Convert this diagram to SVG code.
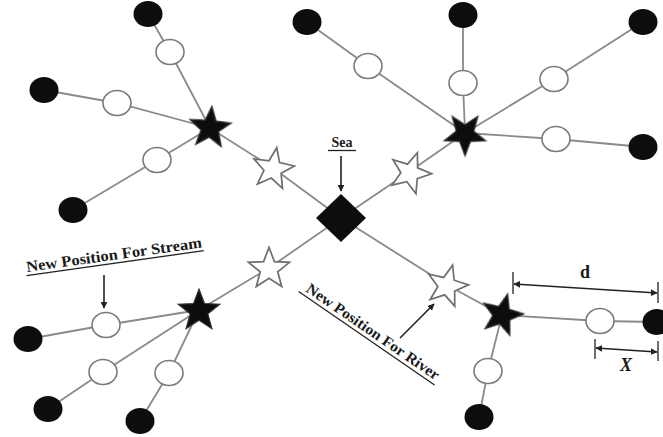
<svg xmlns="http://www.w3.org/2000/svg" width="663" height="437" viewBox="0 0 663 437">
<style>
.ln{stroke:#8a8a8a;stroke-width:1.8;fill:none}
.hol{fill:#fff;stroke:#7a7a7a;stroke-width:1.6}
.blk{fill:#111}
.wst{fill:#fff;stroke:#707070;stroke-width:1.6;stroke-linejoin:miter}
.bst{fill:#111;stroke:#333;stroke-width:1}
.lbl{font-family:"Liberation Serif",serif;font-weight:bold;fill:#1a1a1a}
.ar{stroke:#222;stroke-width:1.6;fill:none}
.ul{stroke:#222;stroke-width:1.3}
</style>
<defs>
<path id="star" d="M0,-20 L5,-6.88 L19.02,-6.18 L8.08,2.63 L11.76,16.18 L0,8.5 L-11.76,16.18 L-8.08,2.63 L-19.02,-6.18 L-5,-6.88 Z"/>
<marker id="ah" viewBox="0 0 10 10" refX="9" refY="5" markerWidth="7" markerHeight="7" orient="auto-start-reverse" markerUnits="userSpaceOnUse">
<path d="M0,0 L10,5 L0,10 Z" fill="#222"/>
</marker>
<filter id="soft" x="-20%" y="-20%" width="140%" height="140%"><feGaussianBlur stdDeviation="0.7"/></filter>
</defs>
<rect width="663" height="437" fill="#fff"/>
<g id="connectors">
<polyline class="ln" points="148,14 170,52 210,128"/>
<polyline class="ln" points="44,90 117,103 210,128"/>
<polyline class="ln" points="73,210 157,160 210,128"/>
<polyline class="ln" points="210,128 273,168 341,218"/>
<polyline class="ln" points="341,218 409,172 465,133"/>
<polyline class="ln" points="307,22 368,66 465,133"/>
<polyline class="ln" points="463,15 463,83 465,133"/>
<polyline class="ln" points="643,22 554,79 465,133"/>
<polyline class="ln" points="643,147 556,139 465,133"/>
<polyline class="ln" points="341,218 269,268 199,310"/>
<polyline class="ln" points="28,339 106,325 199,310"/>
<polyline class="ln" points="48,409 103,372 199,310"/>
<polyline class="ln" points="140,421 169,373 199,310"/>
<polyline class="ln" points="341,218 447,285 502,315"/>
<polyline class="ln" points="502,315 600,321 657,322"/>
<polyline class="ln" points="502,315 488,371 479,417"/>
</g>
<g id="sea">
<polygon class="blk" filter="url(#soft)" points="341,194 366,218 341,242 316,218"/>
</g>
<g id="sea-label">
<text class="lbl" x="342" y="147" font-size="14" text-anchor="middle">Sea</text>
<line class="ul" x1="328" y1="150.5" x2="356" y2="150.5"/>
<line class="ar" x1="341" y1="156" x2="341" y2="191" marker-end="url(#ah)"/>
</g>
<g id="tl-cluster">
<use href="#star" class="bst" filter="url(#soft)" transform="translate(210,128) rotate(5) scale(1.1)"/>
<ellipse class="hol" cx="170" cy="52" rx="14" ry="12.5"/>
<ellipse class="blk" filter="url(#soft)" cx="148" cy="14" rx="14.5" ry="13"/>
<ellipse class="hol" cx="117" cy="103" rx="14" ry="12.5"/>
<ellipse class="blk" filter="url(#soft)" cx="44" cy="90" rx="14.5" ry="13"/>
<ellipse class="hol" cx="157" cy="160" rx="14" ry="12.5"/>
<ellipse class="blk" filter="url(#soft)" cx="73" cy="210" rx="14.5" ry="13"/>
<use href="#star" class="wst" transform="translate(273,169) rotate(10) scale(1.08)"/>
</g>
<g id="tr-cluster">
<use href="#star" class="bst" filter="url(#soft)" transform="translate(465,134) rotate(36) scale(1.1)"/>
<ellipse class="hol" cx="368" cy="66" rx="14" ry="12.5"/>
<ellipse class="blk" filter="url(#soft)" cx="307" cy="22" rx="14.5" ry="13"/>
<ellipse class="hol" cx="463" cy="83" rx="14" ry="12.5"/>
<ellipse class="blk" filter="url(#soft)" cx="463" cy="15" rx="14.5" ry="13"/>
<ellipse class="hol" cx="554" cy="79" rx="14" ry="12.5"/>
<ellipse class="blk" filter="url(#soft)" cx="643" cy="22" rx="14.5" ry="13"/>
<ellipse class="hol" cx="556" cy="139" rx="14" ry="12.5"/>
<ellipse class="blk" filter="url(#soft)" cx="643" cy="147" rx="14.5" ry="13"/>
<use href="#star" class="wst" transform="translate(410,173) rotate(20) scale(1.08)"/>
</g>
<g id="bl-cluster">
<use href="#star" class="bst" filter="url(#soft)" transform="translate(199,311) rotate(0) scale(1.1)"/>
<ellipse class="hol" cx="106" cy="325" rx="14" ry="12.5"/>
<ellipse class="blk" filter="url(#soft)" cx="28" cy="339" rx="14.5" ry="13"/>
<ellipse class="hol" cx="103" cy="372" rx="14" ry="12.5"/>
<ellipse class="blk" filter="url(#soft)" cx="48" cy="409" rx="14.5" ry="13"/>
<ellipse class="hol" cx="169" cy="373" rx="14" ry="12.5"/>
<ellipse class="blk" filter="url(#soft)" cx="140" cy="421" rx="14.5" ry="13"/>
<use href="#star" class="wst" transform="translate(269,269) rotate(0) scale(1.08)"/>
</g>
<g id="br-cluster">
<use href="#star" class="bst" filter="url(#soft)" transform="translate(502,315) rotate(15) scale(1.1)"/>
<ellipse class="hol" cx="600" cy="321" rx="14" ry="12.5"/>
<ellipse class="blk" filter="url(#soft)" cx="657" cy="322" rx="14.5" ry="13"/>
<ellipse class="hol" cx="488" cy="371" rx="14" ry="12.5"/>
<ellipse class="blk" filter="url(#soft)" cx="479" cy="417" rx="14.5" ry="13"/>
<use href="#star" class="wst" transform="translate(447,286) rotate(15) scale(1.08)"/>
</g>
<g id="stream-label">
<g transform="translate(27,272) rotate(-8)">
<text class="lbl" x="0" y="0" font-size="15.5" textLength="177" lengthAdjust="spacingAndGlyphs">New Position For Stream</text>
<line class="ul" x1="-1" y1="3.5" x2="178" y2="3.5"/>
</g>
<line class="ar" x1="104" y1="275" x2="104" y2="308" marker-end="url(#ah)"/>
</g>
<g id="river-label">
<g transform="translate(305,291) rotate(34.5)">
<text class="lbl" x="0" y="0" font-size="15" textLength="158" lengthAdjust="spacingAndGlyphs">New Position For River</text>
<line class="ul" x1="-5" y1="4" x2="160" y2="4"/>
</g>
<line class="ar" x1="400" y1="338" x2="434" y2="304" marker-end="url(#ah)"/>
</g>
<g id="dim-d">
<line class="ul" x1="513" y1="272" x2="513" y2="294" stroke-width="1.8"/>
<line class="ul" x1="658" y1="282" x2="658" y2="303" stroke-width="1.8"/>
<line class="ar" x1="514" y1="284" x2="657" y2="293" marker-start="url(#ah)" marker-end="url(#ah)"/>
<text class="lbl" x="585" y="278" font-size="18" text-anchor="middle">d</text>
</g>
<g id="dim-x">
<line class="ul" x1="595" y1="339" x2="595" y2="359" stroke-width="1.8"/>
<line class="ul" x1="658" y1="341" x2="658" y2="361" stroke-width="1.8"/>
<line class="ar" x1="596" y1="348" x2="657" y2="352" marker-start="url(#ah)" marker-end="url(#ah)"/>
<text class="lbl" x="626" y="371" font-size="18" font-style="italic" text-anchor="middle">X</text>
</g>
</svg>
